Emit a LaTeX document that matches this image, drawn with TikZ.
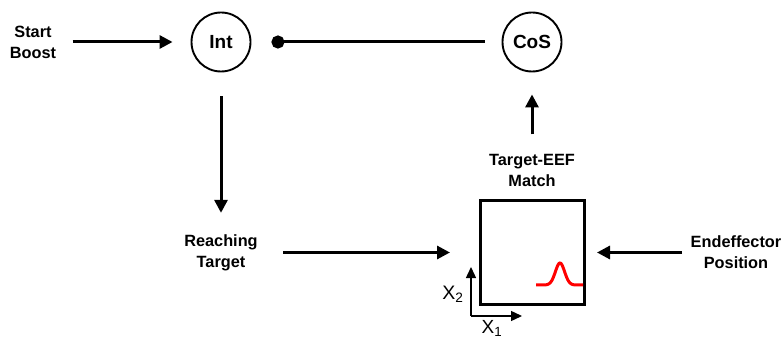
\documentclass[tikz,border=0pt]{standalone}
\usepackage{fontspec}
\setmainfont{Liberation Sans}
\usetikzlibrary{arrows.meta,positioning}

\begin{document}
\begin{tikzpicture}[x=1pt,y=-1pt,
  unit/.style={circle,draw,line width=1.9pt,minimum size=59pt,inner sep=0pt,font=\bfseries\fontsize{19}{22}\selectfont},
  lbl/.style={align=center,font=\bfseries\fontsize{16.3}{21}\selectfont},
  conn/.style={line width=3pt,-{Triangle[length=13pt,width=13pt]}},
  axis/.style={line width=1.4pt,-{Triangle[length=11pt,width=10pt]}}]
\useasboundingbox (0,0) rectangle (782,339);
\node[lbl] (start) at (33,42) {Start\\Boost};
\node[unit] (int) at (221,42) {Int};
\node[unit] (cos) at (532,42) {CoS};
\node[lbl] (match) at (532,170) {Target-EEF\\Match};
\node[draw,line width=3pt,minimum size=104pt,inner sep=0pt] (field) at (532.5,252.5) {};
\node[lbl] (reach) at (221,252.5) {Reaching\\Target};
\node[lbl] (eef) at (736,252.5) {Endeffector\\Position};
\coordinate (o) at (471,316);
\node[font=\fontsize{19.5}{22}\selectfont] (xtwo) at (453,294) {X\textsubscript{2}};
\node[font=\fontsize{19}{21}\selectfont] (xone) at (492,328.5) {X\textsubscript{1}};
\draw[conn] ([xshift=13pt]start.east) -- ([xshift=-18pt]int.west);
\draw[line width=3pt,{Circle[length=13pt]}-] ([xshift=20pt]int.east) -- ([xshift=-17pt]cos.west);
\draw[conn] ([yshift=-24pt]int.south) -- ([yshift=18pt]reach.north);
\draw[conn] ([xshift=22pt]reach.east) -- ([xshift=-29pt]field.west);
\draw[conn] ([xshift=-5pt]eef.west) -- ([xshift=11pt]field.east);
\draw[conn] ([yshift=16pt]match.north) -- ([yshift=-22pt]cos.south);
\draw[axis] (o) -- (471,267);
\draw[axis] (o) -- (522,316);
\draw[red,line width=3pt] plot[domain=-24:23,samples=80] ({\x+560},{285-22*exp(-(\x/6.5)^2)});
\end{tikzpicture}
\end{document}
